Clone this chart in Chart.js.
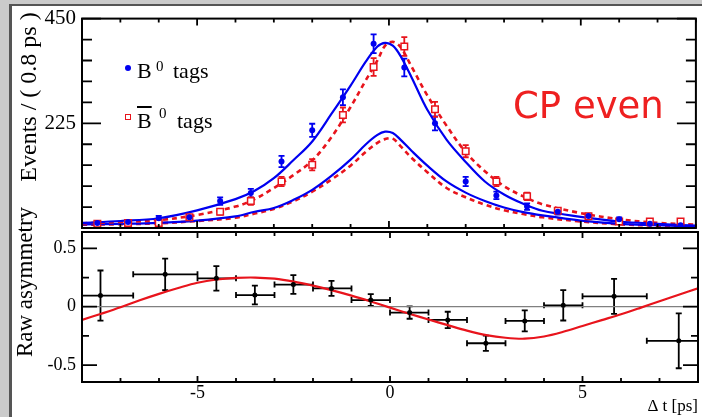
<!DOCTYPE html>
<html lang="en">
<head>
<meta charset="UTF-8">
<title>CP even - flavour tagged decay time</title>
<script src="https://cdn.jsdelivr.net/npm/chart.js"></script>
<style>
    body {
        margin: 0;
        width: 702px;
        height: 417px;
        overflow: hidden;
        background: #cbcbcb;
        font-family: 'Liberation Serif', serif;
    }

    .sheet {
        position: absolute;
        left: 9px;
        top: 4px;
        width: 693px;
        height: 413px;
        box-sizing: border-box;
        background: #fff;
        border-left: 3px solid #555;
        border-top: 2px solid #555;
    }

    canvas {
        position: absolute;
        left: 0;
        top: 0;
    }

    .txt {
        position: absolute;
        white-space: nowrap;
        line-height: 1;
        color: #000;
    }

    .ytitle {
        transform: translate(-50%, -50%) rotate(-90deg);
    }

    .mark-dot {
        position: absolute;
        width: 6px;
        height: 6px;
        border-radius: 50%;
        background: #0000f0;
    }

    .mark-box {
        position: absolute;
        width: 6px;
        height: 6px;
        box-sizing: border-box;
        border: 1.5px solid #e8141c;
        background: #fff;
    }
</style>
</head>
<body>
<div class="sheet"></div>
<canvas id="events-chart" width="702" height="417"></canvas>
<canvas id="asym-chart" width="702" height="417"></canvas>

<div class="txt ytitle" style="left:28px; top:97px; font-size:24px;">Events / ( 0.8 ps )</div>
<div class="txt ytitle" style="left:24px; top:282px; font-size:23px;">Raw asymmetry</div>

<span class="mark-dot" style="left:125px; top:65px;"></span>
<span class="txt" style="left:137px; top:60px; font-size:22px;">B</span>
<span class="txt" style="left:156px; top:59px; font-size:15px;">0</span>
<span class="txt" style="left:173px; top:60px; font-size:22px;">tags</span>

<span class="mark-box" style="left:125px; top:114px;"></span>
<span class="txt" style="left:137px; top:110px; font-size:22px; text-decoration:overline;">B</span>
<span class="txt" style="left:159px; top:106px; font-size:15px;">0</span>
<span class="txt" style="left:177px; top:110px; font-size:22px;">tags</span>

<div class="txt" style="left:513px; top:87px; font-size:37px; font-family:'DejaVu Sans', sans-serif; color:#ee2020;">CP even</div>

<script>
    // Δt bin centres (ps), bins of 0.8 ps
    const binCenters = [-7.6, -6.8, -6.0, -5.2, -4.4, -3.6, -2.8, -2.0, -1.2, -0.4, 0.4, 1.2, 2.0, 2.8, 3.6, 4.4, 5.2, 6.0, 6.8, 7.6];
    const b0Tags = [11, 13, 21, 23, 58, 75, 143, 210, 281, 396, 345, 225, 100, 70, 46, 35, 26, 19, 9, 6];
    const b0TagErr = [3, 4, 5, 5, 8, 9, 12, 14, 17, 20, 19, 15, 10, 8, 7, 6, 5, 4, 3, 2];
    const b0barTags = [9, 11, 11, 23, 35, 58, 100, 136, 243, 346, 390, 255, 165, 100, 68, 37, 25, 14, 14, 14];
    const b0barTagErr = [3, 3, 3, 5, 6, 8, 10, 12, 16, 19, 20, 16, 13, 10, 8, 6, 5, 4, 4, 4];

    // fit projections
    const curveDt = [-8, -7, -6, -5, -4, -3.5, -3, -2.5, -2, -1.5, -1, -0.6, -0.3, -0.1, 0.1, 0.3, 0.6, 1, 1.5, 2, 2.5, 3, 3.5, 4, 5, 6, 7, 8];
    const b0Fit = [11, 15, 21, 38, 62, 80, 107, 145, 186, 245, 306, 358, 390, 398, 392, 370, 322, 254, 190, 142, 100, 72, 52, 37, 24, 14, 9, 5];
    const b0barFit = [10, 13, 17, 28, 46, 62, 86, 113, 145, 195, 260, 318, 360, 392, 400, 389, 345, 285, 220, 163, 122, 90, 68, 51, 32, 19, 11, 7];
    const b0Bkg = [8, 9, 11, 16, 25, 35, 43, 60, 82, 112, 147, 180, 200, 207, 204, 190, 165, 134, 100, 76, 58, 44, 34, 27, 16, 9, 6, 3];
    const b0barBkg = [7, 8, 10, 15, 22, 31, 41, 57, 78, 104, 134, 164, 183, 191, 192, 176, 150, 120, 86, 66, 50, 38, 30, 23, 14, 8, 5, 3];

    // raw asymmetry
    const asymDt = [-7.52, -5.84, -4.51, -3.51, -2.51, -1.52, -0.5, 0.51, 1.5, 2.49, 3.5, 4.5, 5.82, 7.5];
    const asymLo = [-8, -6.67, -5, -4, -3, -2, -1, 0, 1, 2, 3, 4, 5, 6.67];
    const asymHi = [-6.67, -5, -4, -3, -2, -1, 0, 1, 2, 3, 4, 5, 6.67, 8];
    const asymVal = [0.095, 0.277, 0.243, 0.1, 0.19, 0.157, 0.057, -0.05, -0.113, -0.313, -0.122, 0.012, 0.089, -0.292];
    const asymErr = [0.215, 0.135, 0.105, 0.08, 0.08, 0.065, 0.05, 0.053, 0.07, 0.065, 0.09, 0.13, 0.15, 0.235];
    const asymFitDt = [-8, -7.5, -7, -6.5, -6, -5.5, -5, -4.5, -4, -3.5, -3, -2.5, -2, -1.5, -1, -0.5, 0, 0.5, 1, 1.5, 2, 2.5, 3, 3.5, 4, 4.5, 5, 5.5, 6, 6.5, 7, 7.5, 8];
    const asymFit = [-0.113, -0.06, -0.005, 0.055, 0.11, 0.16, 0.205, 0.233, 0.247, 0.25, 0.24, 0.215, 0.18, 0.14, 0.095, 0.045, -0.008, -0.06, -0.11, -0.158, -0.205, -0.243, -0.266, -0.274, -0.255, -0.215, -0.165, -0.115, -0.065, -0.01, 0.047, 0.103, 0.157];

    // axes
    const dtRange = [-8, 8];
    const dtTicks = [-5, 0, 5];
    const dtMinorStep = 1;
    const eventRange = [0, 450];
    const eventTicks = [225, 450];
    const eventMinorStep = 45;
    const asymRange = [-0.645, 0.64];
    const asymTicks = [-0.5, 0, 0.5];
    const asymMinorStep = 0.25;

    const BLUE = '#0000f0';
    const RED = '#e8141c';

    const pts = (xs, ys) => xs.map((x, i) => ({x: x, y: ys[i]}));

    // error bars, drawn under the markers
    const errorBars = {
        id: 'errorBars',
        beforeDatasetsDraw(chart) {
            const {ctx, scales: {x, y}} = chart;
            chart.data.datasets.forEach(ds => {
                if (!ds.yErr) return;
                ctx.save();
                ctx.strokeStyle = ds.borderColor;
                ctx.lineWidth = 1.8;
                ctx.beginPath();
                ds.data.forEach((p, j) => {
                    const px = x.getPixelForValue(p.x);
                    const py = y.getPixelForValue(p.y);
                    const top = y.getPixelForValue(p.y + ds.yErr[j]);
                    const bot = y.getPixelForValue(p.y - ds.yErr[j]);
                    const c = ds.cap;
                    ctx.moveTo(px, top); ctx.lineTo(px, bot);
                    ctx.moveTo(px - c, top); ctx.lineTo(px + c, top);
                    ctx.moveTo(px - c, bot); ctx.lineTo(px + c, bot);
                    if (ds.xLo) {
                        const l = x.getPixelForValue(ds.xLo[j]);
                        const r = x.getPixelForValue(ds.xHi[j]);
                        ctx.moveTo(l, py); ctx.lineTo(r, py);
                        ctx.moveTo(l, py - c); ctx.lineTo(l, py + c);
                        ctx.moveTo(r, py - c); ctx.lineTo(r, py + c);
                    }
                });
                ctx.stroke();
                ctx.restore();
            });
        }
    };

    // ROOT style frame with inward ticks on all four sides
    const frameTicks = {
        id: 'frameTicks',
        afterDraw(chart, args, o) {
            const {ctx, chartArea: a, scales: {x, y}} = chart;
            const isMajor = (list, v) => list.some(m => Math.abs(m - v) < 1e-6);
            ctx.save();
            ctx.strokeStyle = '#000';
            ctx.lineWidth = 1.8;
            ctx.beginPath();
            for (let k = Math.ceil(x.min / o.xStep); k <= Math.floor(x.max / o.xStep); k++) {
                const v = k * o.xStep;
                const px = x.getPixelForValue(v);
                const len = isMajor(o.xMajors, v) ? o.xLong : o.xShort;
                ctx.moveTo(px, a.bottom); ctx.lineTo(px, a.bottom - len);
                ctx.moveTo(px, a.top); ctx.lineTo(px, a.top + len);
            }
            for (let k = Math.ceil(y.min / o.yStep - 1e-6); k <= Math.floor(y.max / o.yStep + 1e-6); k++) {
                const v = k * o.yStep;
                const py = y.getPixelForValue(v);
                const len = isMajor(o.yMajors, v) ? o.yLong : o.yShort;
                ctx.moveTo(a.left, py); ctx.lineTo(a.left + len, py);
                ctx.moveTo(a.right, py); ctx.lineTo(a.right - len, py);
            }
            ctx.stroke();
            ctx.lineWidth = 2;
            ctx.strokeRect(a.left, a.top, a.right - a.left, a.bottom - a.top);
            ctx.restore();
        }
    };

    function curve(xs, ys, color, width, dash) {
        return {
            data: pts(xs, ys),
            showLine: true,
            borderColor: color,
            borderWidth: width,
            borderDash: dash || [],
            pointRadius: 0,
            tension: 0.35
        };
    }

    const tickFont = size => ({family: 'Liberation Serif', size: size});

    new Chart(document.getElementById('events-chart'), {
        type: 'scatter',
        data: {
            datasets: [
                {
                    data: pts(binCenters, b0Tags), yErr: b0TagErr, cap: 3,
                    borderColor: BLUE, backgroundColor: BLUE,
                    pointStyle: 'circle', pointRadius: 3, borderWidth: 0
                },
                {
                    data: pts(binCenters, b0barTags), yErr: b0barTagErr, cap: 3,
                    borderColor: RED, backgroundColor: '#fff',
                    pointStyle: 'rect', pointRadius: 4.6, borderWidth: 1.5
                },
                curve(curveDt, b0Fit, BLUE, 2.2),
                curve(curveDt, b0barFit, RED, 2.6, [5, 4]),
                curve(curveDt, b0Bkg, BLUE, 2.2),
                curve(curveDt, b0barBkg, RED, 2.6, [5, 4])
            ]
        },
        options: {
            responsive: false,
            animation: false,
            layout: {padding: {top: 15, right: 2, bottom: 417 - 228, left: 0}},
            plugins: {
                legend: {display: false},
                tooltip: {enabled: false},
                frameTicks: {
                    xStep: dtMinorStep, xMajors: dtTicks, xLong: 7, xShort: 4,
                    yStep: eventMinorStep, yMajors: eventTicks, yLong: 19, yShort: 10
                }
            },
            scales: {
                x: {type: 'linear', min: dtRange[0], max: dtRange[1], display: false},
                y: {
                    min: eventRange[0], max: eventRange[1],
                    afterFit: s => { s.width = 82; },
                    afterBuildTicks: s => { s.ticks = eventTicks.map(v => ({value: v})); },
                    grid: {display: false, drawTicks: false},
                    border: {display: false},
                    ticks: {padding: 6, color: '#000', font: tickFont(21), callback: v => String(v)}
                }
            }
        },
        plugins: [errorBars, frameTicks]
    });

    new Chart(document.getElementById('asym-chart'), {
        type: 'scatter',
        data: {
            datasets: [
                {
                    data: pts(asymDt, asymVal), yErr: asymErr, xLo: asymLo, xHi: asymHi, cap: 3,
                    borderColor: '#000', backgroundColor: '#000',
                    pointStyle: 'circle', pointRadius: 2.5, borderWidth: 0
                },
                curve(asymFitDt, asymFit, RED, 2.2),
                {
                    data: pts(dtRange, [0, 0]), showLine: true,
                    borderColor: '#808080', borderWidth: 1.2, pointRadius: 0
                }
            ]
        },
        options: {
            responsive: false,
            animation: false,
            layout: {padding: {top: 232, right: 2, bottom: 0, left: 0}},
            plugins: {
                legend: {display: false},
                tooltip: {enabled: false},
                frameTicks: {
                    xStep: dtMinorStep, xMajors: dtTicks, xLong: 6, xShort: 4,
                    yStep: asymMinorStep, yMajors: asymTicks, yLong: 15, yShort: 7
                }
            },
            scales: {
                x: {
                    type: 'linear', min: dtRange[0], max: dtRange[1],
                    afterFit: s => { s.height = 35; },
                    afterBuildTicks: s => { s.ticks = dtTicks.map(v => ({value: v})); },
                    grid: {display: false, drawTicks: false},
                    border: {display: false},
                    ticks: {padding: 0, color: '#000', font: tickFont(18), maxRotation: 0, callback: v => String(v)},
                    title: {
                        display: true, text: 'Δ t [ps]', align: 'end', color: '#000',
                        font: tickFont(17), padding: {top: 0, bottom: 0}
                    }
                },
                y: {
                    min: asymRange[0], max: asymRange[1],
                    afterFit: s => { s.width = 82; },
                    afterBuildTicks: s => { s.ticks = asymTicks.map(v => ({value: v})); },
                    grid: {display: false, drawTicks: false},
                    border: {display: false},
                    ticks: {padding: 6, color: '#000', font: tickFont(18), callback: v => String(v)}
                }
            }
        },
        plugins: [errorBars, frameTicks]
    });
</script>
</body>
</html>
